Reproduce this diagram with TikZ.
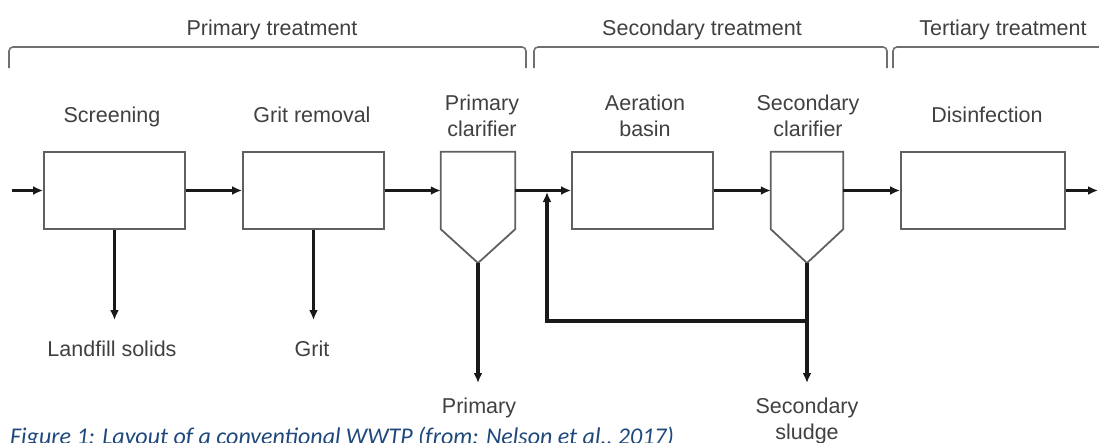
\documentclass[tikz,border=0pt]{standalone}
\usepackage{fontspec}
\setmainfont{Liberation Sans}
\newfontfamily\capfont{Carlito}
\usetikzlibrary{arrows.meta}
\definecolor{txt}{HTML}{404040}
\definecolor{boxc}{HTML}{606060}
\definecolor{bracec}{HTML}{707070}
\definecolor{capc}{HTML}{1F497D}
\begin{document}
\begin{tikzpicture}[x=1pt,y=-1pt,
  lab/.style={text=txt, font=\fontsize{21.5}{26}\selectfont, inner sep=0pt, anchor=base},
  unit/.style={draw=boxc, line width=1.8pt, fill=white, inner sep=0pt, minimum height=77pt},
  ghost/.style={inner sep=0pt, minimum height=77pt},
  outline/.style={draw=boxc, line width=1.8pt, line join=miter},
  flow/.style={line width=3.1pt, draw=black!90, -{Latex[length=10pt,width=9pt]}},
  brace/.style={draw=bracec, line width=1.6pt, rounded corners=4pt}]
\useasboundingbox (0,0) rectangle (1099,442);

% brackets
\draw[brace] (9,68) -- (9,47) -- (526,47) -- (526,68);
\draw[brace] (534,68) -- (534,47) -- (887,47) -- (887,68);
\draw[brace] (893,68) -- (893,47) -- (1099,47);

% headers
\node[lab] (h1) at (272,35) {Primary treatment};
\node[lab] (h2) at (702,35) {Secondary treatment};
\node[lab] (h3) at (1003,35) {Tertiary treatment};

% units
\node[unit, minimum width=141pt] (scr) at (114.5,190.5) {};
\node[unit, minimum width=141pt] (grit) at (313.5,190.5) {};
\node[ghost, minimum width=74pt] (pc) at (478,190.5) {};
\coordinate (pcb) at (478,263);
\draw[outline] (pc.north west) -- (pc.north east) -- (pc.south east) -- (pcb) -- (pc.south west) -- cycle;
\node[unit, minimum width=141pt] (aer) at (642.5,190.5) {};
\node[ghost, minimum width=72pt] (sc) at (807,190.5) {};
\coordinate (scb) at (807,263);
\draw[outline] (sc.north west) -- (sc.north east) -- (sc.south east) -- (scb) -- (sc.south west) -- cycle;
\node[unit, minimum width=164pt] (dis) at (983,190.5) {};

% unit labels
\node[lab] (l1) at (112,122) {Screening};
\node[lab] (l2) at (312,122) {Grit removal};
\node[lab] (l3a) at (482,110) {Primary};
\node[lab] (l3b) at (482,136) {clarifier};
\node[lab] (l4a) at (645,110) {Aeration};
\node[lab] (l4b) at (645,136) {basin};
\node[lab] (l5a) at (808,110) {Secondary};
\node[lab] (l5b) at (808,136) {clarifier};
\node[lab] (l6) at (987,122) {Disinfection};

% free ends
\coordinate (in) at (12,190.5);
\coordinate (out) at (1098,190.5);
\coordinate (jn) at (547,192);
\coordinate (lf) at (114.5,320);
\coordinate (gr) at (313.5,320);
\coordinate (psl) at (478,383);
\coordinate (ssl) at (807,383);
\coordinate (rc) at (807,321);

% main flow
\draw[flow] (in) -- (scr.west);
\draw[flow] (scr.east) -- (grit.west);
\draw[flow] (grit.east) -- (pc.west);
\draw[flow] (pc.east) -- (aer.west);
\draw[flow] (aer.east) -- (sc.west);
\draw[flow] (sc.east) -- (dis.west);
\draw[flow] (dis.east) -- (out);

% outputs
\draw[flow] (scr.south) -- (lf);
\draw[flow] (grit.south) -- (gr);
\draw[flow] (pcb) -- (psl);
\draw[flow] (scb) -- (ssl);
\draw[flow] (rc) -| (jn);

% output labels
\node[lab] (o1) at (112,356) {Landfill solids};
\node[lab] (o2) at (312,356) {Grit};
\node[lab] (o3a) at (479,413) {Primary};
\node[lab] (o3b) at (479,439) {sludge};
\node[lab] (o4a) at (807,413) {Secondary};
\node[lab] (o4b) at (807,439) {sludge};

% caption (cut by the lower edge, as in the source)
\node[fill=white, inner xsep=2pt, inner ysep=4pt, anchor=base west, text=capc,
  font=\capfont\itshape\fontsize{24}{28}\selectfont] (cap) at (8,444)
  {Figure 1: Layout of a conventional WWTP (from: Nelson et al., 2017)};
\end{tikzpicture}
\end{document}
